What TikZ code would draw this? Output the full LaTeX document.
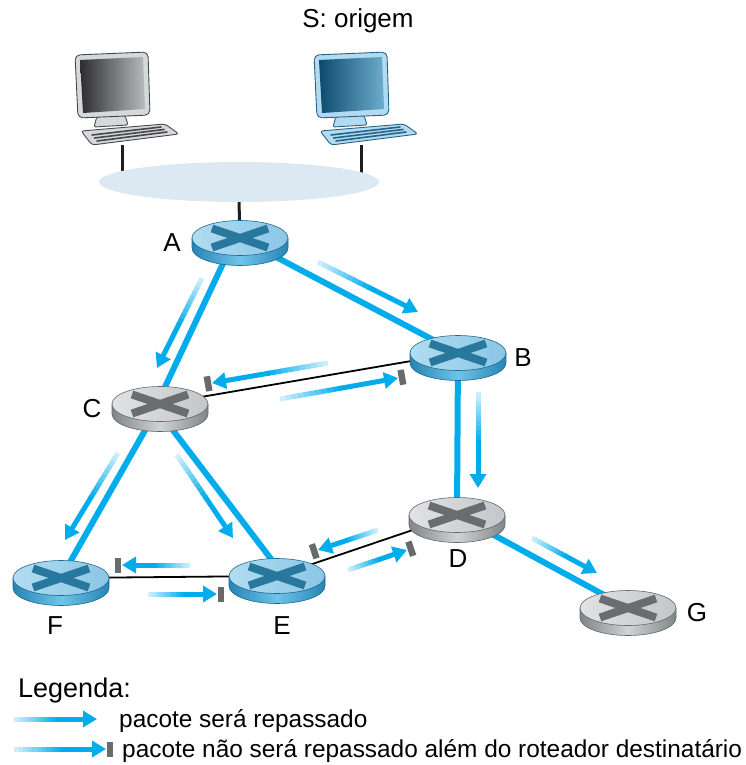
\documentclass[tikz,border=0pt]{standalone}
\usepackage{fontspec}
\setmainfont{Liberation Sans}
\usetikzlibrary{calc,arrows.meta,shapes.geometric}

% link and arrow colours
\definecolor{pblue}{RGB}{0,172,236}
\definecolor{lanfill}{RGB}{221,233,242}
\definecolor{blockgray}{RGB}{105,106,108}
\definecolor{wirecol}{RGB}{30,30,30}
% blue router
\definecolor{rbTopL}{RGB}{178,220,241}
\definecolor{rbTopR}{RGB}{138,198,229}
\definecolor{rbSideE}{RGB}{38,132,180}
\definecolor{rbSideM}{RGB}{110,196,232}
\definecolor{rbLine}{RGB}{30,105,145}
\definecolor{rbX}{RGB}{40,120,158}
% grey router
\definecolor{rgTopL}{RGB}{224,226,227}
\definecolor{rgTopR}{RGB}{196,199,201}
\definecolor{rgSideE}{RGB}{128,133,136}
\definecolor{rgSideM}{RGB}{208,211,213}
\definecolor{rgLine}{RGB}{100,104,107}
\definecolor{rgX}{RGB}{105,109,112}
% computers
\definecolor{cgFrame}{RGB}{214,217,219}
\definecolor{cgLine}{RGB}{70,72,74}
\definecolor{cgDark}{RGB}{45,45,47}
\definecolor{cgLight}{RGB}{185,186,188}
\definecolor{cbFrame}{RGB}{178,218,240}
\definecolor{cbLine}{RGB}{40,100,135}
\definecolor{cbDark}{RGB}{12,75,110}
\definecolor{cbLight}{RGB}{110,172,205}

% router: cylinder with a cross on its top face
\newcommand\drawrouter[6]{%
  \shade[left color=#3, right color=#3, middle color=#4, draw=#5, line width=0.6pt]
    (-48,0) -- (-48,10) arc[start angle=180, end angle=0, x radius=48, y radius=17.5] -- (48,0) -- cycle;
  \shade[left color=#1, right color=#2, draw=#5, line width=0.6pt]
    (0,0) ellipse[x radius=48, y radius=17.5];
  \draw[line width=8pt, draw=#6] (-28,-9.5) -- (28,9.5) (-28,9.5) -- (28,-9.5);
}

% desktop computer: monitor, stand and keyboard
\newcommand\drawcomputer[4]{%
  \filldraw[fill=#1, draw=#2, line width=0.9pt, rounded corners=2pt]
    (22,64) -- (50,63) -- (53,73) -- (19,75) -- cycle;
  \filldraw[fill=#1, draw=#2, line width=0.9pt, rounded corners=5pt]
    (0,3) -- (73,0) -- (75,63) -- (3,66) -- cycle;
  \shade[left color=#3, right color=#4]
    (5,8) -- (68,5) -- (70,57) -- (8,61) -- cycle;
  \filldraw[fill=#1, draw=#2, line width=0.9pt, rounded corners=3pt]
    (6,79) -- (90,72) -- (104,82) -- (17,93) -- cycle;
  \draw[#2, line width=1.6pt, line cap=round]
    (17,83) -- (86,75) (19.5,86) -- (89,77.5) (22,89) -- (92,80);
  \coordinate (-base) at (47,93);
}

\tikzset{
  pics/brouter/.style={code={\drawrouter{rbTopL}{rbTopR}{rbSideE}{rbSideM}{rbLine}{rbX}}},
  pics/grouter/.style={code={\drawrouter{rgTopL}{rgTopR}{rgSideE}{rgSideM}{rgLine}{rgX}}},
  pics/computer/.style n args={4}{code={\drawcomputer{#1}{#2}{#3}{#4}}},
  rnode/.style={ellipse, minimum width=96pt, minimum height=35pt, inner sep=0pt},
  link/.style={pblue, line width=6pt},
  thinlink/.style={black, line width=1.8pt},
  wire/.style={wirecol, line width=3pt},
  shaft/.style={line width=5pt},
  blockbar/.style={blockgray, line width=6.5pt},
  rlabel/.style={anchor=base, inner sep=0pt, font=\fontsize{26}{30}\selectfont},
  legtext/.style={anchor=base west, inner sep=0pt, font=\fontsize{24.4}{28}\selectfont},
}

% forwarding arrow, fading in from its tail
\newcommand\fwdarrow[2]{%
  \foreach \kk in {1,...,10}{%
    \pgfmathsetmacro\ka{(\kk-1)/20}%
    \pgfmathsetmacro\kb{\kk/20+0.012}%
    \pgfmathtruncatemacro\kc{12+8*\kk}%
    \draw[shaft, draw=pblue!\kc!white] ($(#1)!\ka!(#2)$) -- ($(#1)!\kb!(#2)$);
  }%
  \draw[shaft, pblue, -{Triangle[length=14pt,width=16pt]}] ($(#1)!0.5!(#2)$) -- (#2);
}
% arrow stopped by a bar: packet not forwarded further
\newcommand\stoparrow[2]{%
  \fwdarrow{#1}{#2}%
  \coordinate (blk) at ($(#2)!-4pt!(#1)$);
  \draw[blockbar] ($(blk)!7.5pt!90:(#2)$) -- ($(blk)!7.5pt!-90:(#2)$);
}

\begin{document}
\begin{tikzpicture}[x=1pt, y=-1pt]
\useasboundingbox (0,0) rectangle (745,765);

% router positions
\node[rnode] (A) at (240,238) {};
\node[rnode] (B) at (458,353) {};
\node[rnode] (C) at (160,404) {};
\node[rnode] (D) at (457,515) {};
\node[rnode] (E) at (277,576) {};
\node[rnode] (F) at (61,578) {};
\node[rnode] (G) at (628,608) {};

% links used by the broadcast
\draw[link] ([xshift=-5pt]A.center) -- ([xshift=-3pt]C.center);
\draw[link] (A.center) -- (B.center);
\draw[link] (B.center) -- (D.center);
\draw[link] (C.center) -- (F.center);
\draw[link] ([xshift=-7pt]C.center) -- ([xshift=7pt]E.center);
\draw[link] (D.center) -- (G.center);
% other links
\draw[thinlink] (C.center) -- (B.center);
\draw[thinlink] (E.center) -- (D.center);
\draw[thinlink] (F.center) -- (E.center);

% source LAN with its two hosts
\pic (pcL) at (75,52) {computer={cgFrame}{cgLine}{cgDark}{cgLight}};
\pic (pcR) at (314,52) {computer={cbFrame}{cbLine}{cbDark}{cbLight}};
\coordinate (lanc) at (239,182);
\draw[wire] (pcL-base) -- (pcL-base |- lanc);
\draw[wire] (pcR-base) -- (pcR-base |- lanc);
\node[ellipse, fill=lanfill, minimum width=280pt, minimum height=40pt, inner sep=0pt] (lan) at (lanc) {};
\draw[wire] (lan.south) -- (A.center);

% routers
\pic at (A.center) {brouter};
\pic at (B.center) {brouter};
\pic at (C.center) {grouter};
\pic at (D.center) {grouter};
\pic at (E.center) {brouter};
\pic at (F.center) {brouter};
\pic at (G.center) {grouter};

% forwarded copies
\coordinate (ac1) at (202,278);  \coordinate (ac2) at (157,368);
\coordinate (ab1) at (318,262);  \coordinate (ab2) at (418,312);
\coordinate (bd1) at (478,392);  \coordinate (bd2) at (478,488);
\coordinate (cf1) at (118,453);  \coordinate (cf2) at (65,540);
\coordinate (ce1) at (177,455);  \coordinate (ce2) at (233,538);
\coordinate (dg1) at (532,538);  \coordinate (dg2) at (597,573);
\fwdarrow{ac1}{ac2}
\fwdarrow{ab1}{ab2}
\fwdarrow{bd1}{bd2}
\fwdarrow{cf1}{cf2}
\fwdarrow{ce1}{ce2}
\fwdarrow{dg1}{dg2}

% duplicate copies that stop at the receiving router
\coordinate (bc1) at (328,363);  \coordinate (bc2) at (212,383);
\coordinate (cb1) at (280,399);  \coordinate (cb2) at (398,378);
\coordinate (ef1) at (190,565);  \coordinate (ef2) at (122,565);
\coordinate (fe1) at (148,594);  \coordinate (fe2) at (217,594);
\coordinate (de1) at (378,530);  \coordinate (de2) at (318,550);
\coordinate (ed1) at (348,570);  \coordinate (ed2) at (407,550);
\stoparrow{bc1}{bc2}
\stoparrow{cb1}{cb2}
\stoparrow{ef1}{ef2}
\stoparrow{fe1}{fe2}
\stoparrow{de1}{de2}
\stoparrow{ed1}{ed2}

% labels
\node[rlabel] (src) at (358,28) {S: origem};
\node[rlabel] (lA) at (172,251) {A};
\node[rlabel] (lB) at (523,366) {B};
\node[rlabel] (lC) at (92,417) {C};
\node[rlabel] (lD) at (458,567) {D};
\node[rlabel] (lE) at (282,634) {E};
\node[rlabel] (lF) at (55,634) {F};
\node[rlabel] (lG) at (697,621) {G};

% legend
\node[legtext, font=\fontsize{27}{31}\selectfont] (leg) at (18,697) {Legenda:};
\coordinate (l11) at (14,719); \coordinate (l12) at (97,719);
\coordinate (l21) at (14,749); \coordinate (l22) at (106,749);
\fwdarrow{l11}{l12}
\stoparrow{l21}{l22}
\node[legtext] (leg1) at (119,727) {pacote será repassado};
\node[legtext] (leg2) at (122,757) {pacote não será repassado além do roteador destinatário};
\end{tikzpicture}
\end{document}
